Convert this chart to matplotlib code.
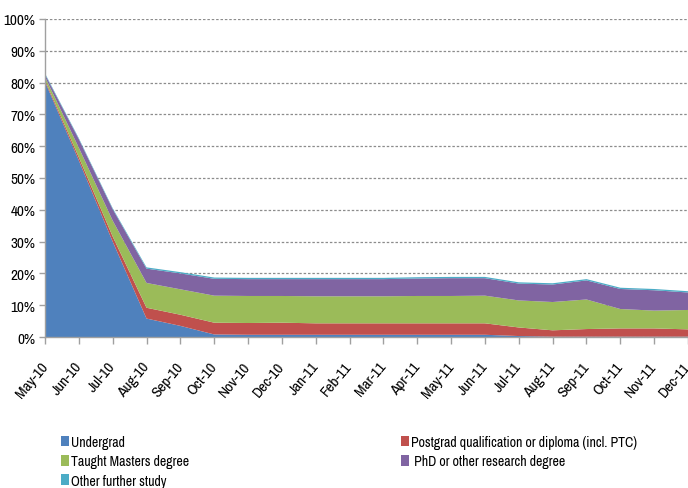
import matplotlib
matplotlib.use("Agg")
import matplotlib.pyplot as plt
from matplotlib.patches import Patch
from matplotlib.ticker import FuncFormatter, MultipleLocator

plt.rcParams['font.family'] = ['Archivo Narrow', 'Liberation Sans', 'DejaVu Sans']

months = ["May-10", "Jun-10", "Jul-10", "Aug-10", "Sep-10", "Oct-10", "Nov-10", "Dec-10",
          "Jan-11", "Feb-11", "Mar-11", "Apr-11", "May-11", "Jun-11", "Jul-11", "Aug-11",
          "Sep-11", "Oct-11", "Nov-11", "Dec-11"]

# Share of respondents in each type of study (%)
undergrad = [80.3, 55.5, 30.0, 5.8, 3.5, 0.8, 0.7, 0.7, 0.7, 0.7, 0.7, 0.7, 0.7, 0.7,
             0.3, 0.1, 0.1, 0.1, 0.1, 0.1]
postgrad_diploma = [0.5, 1.0, 1.6, 3.4, 3.5, 3.7, 3.7, 3.8, 3.6, 3.6, 3.6, 3.6, 3.6, 3.6,
                    2.7, 2.0, 2.4, 2.6, 2.6, 2.3]
taught_masters = [1.0, 3.0, 5.0, 7.8, 8.0, 8.5, 8.5, 8.4, 8.5, 8.5, 8.5, 8.6, 8.6, 8.7,
                  8.5, 8.9, 9.3, 6.1, 5.6, 6.1]
phd_research = [0.8, 2.7, 3.6, 4.5, 5.0, 5.3, 5.3, 5.3, 5.4, 5.4, 5.4, 5.5, 5.6, 5.5,
                5.3, 5.5, 6.0, 6.3, 6.4, 5.5]
other_study = [0.3, 0.3, 0.3, 0.4, 0.4, 0.4, 0.4, 0.4, 0.4, 0.4, 0.4, 0.4, 0.4, 0.4,
               0.4, 0.4, 0.4, 0.4, 0.4, 0.4]

series_names = ["Undergrad", "Postgrad qualification or diploma (incl. PTC)",
                "Taught Masters degree", " PhD or other research degree",
                "Other further study"]
colors = ["#4F81BD", "#C0504D", "#9BBB59", "#8064A2", "#4BACC6"]

fig = plt.figure(figsize=(6.88, 4.89), dpi=100)
ax = fig.add_axes([45 / 688, 1 - 338 / 489, 1 - 45 / 688, (338 - 20) / 489])

x = list(range(len(months)))
data = [undergrad, postgrad_diploma, taught_masters, phd_research, other_study]
ax.stackplot(x, *[[v / 100 for v in s] for s in data], colors=colors,
             linewidth=0, edgecolor="none", zorder=2)

ax.set_xlim(0, len(months) - 1)
ax.set_ylim(0, 1.0)
ax.yaxis.set_major_locator(MultipleLocator(0.1))
ax.yaxis.set_major_formatter(FuncFormatter(lambda v, _: f"{v * 100:.0f}%"))
ax.grid(axis="y", color="#8c8c8c", linestyle=(0, (2, 1.5)), linewidth=0.9, zorder=1)
ax.set_axisbelow(True)

ax.set_xticks(x)
ax.set_xticklabels(months, rotation=50, ha="right", va="center",
                   rotation_mode="anchor", fontsize=11)
ax.tick_params(axis="x", length=5, color="#a0a0a0", width=1, pad=14)
ax.tick_params(axis="y", length=4, color="#a0a0a0", width=1, labelsize=11, pad=3)

for side in ["top", "right"]:
    ax.spines[side].set_visible(False)
for side in ["left", "bottom"]:
    ax.spines[side].set_color("#a0a0a0")
    ax.spines[side].set_linewidth(1)
ax.spines["bottom"].set_zorder(3)

handles = [Patch(facecolor=c, edgecolor="none") for c in colors]
leg_kw = dict(frameon=False, fontsize=10, handlelength=0.55, handleheight=0.8,
              handletextpad=0.2, labelspacing=0.38, borderaxespad=0, borderpad=0,
              loc="upper left")
fig.legend([handles[0], handles[2], handles[4]],
           [series_names[0], series_names[2], series_names[4]],
           bbox_to_anchor=(61 / 688, 1 - 436 / 489), **leg_kw)
fig.legend([handles[1], handles[3]], [series_names[1], series_names[3]],
           bbox_to_anchor=(401 / 688, 1 - 436 / 489), **leg_kw)

fig.savefig("out.png", dpi=100)
